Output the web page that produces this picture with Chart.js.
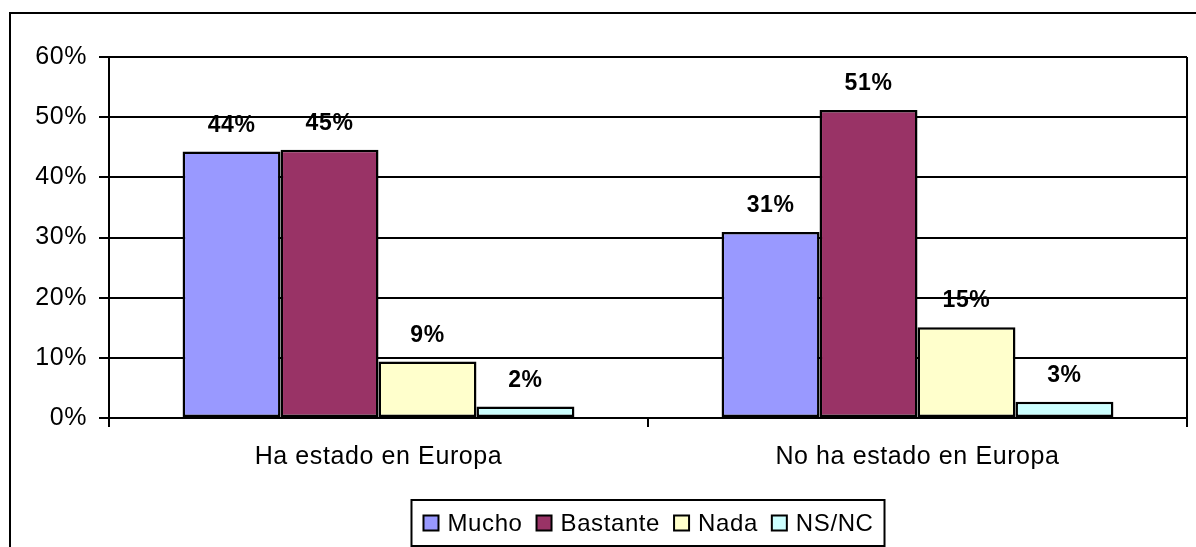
<!DOCTYPE html>
<html>
<head>
<meta charset="utf-8">
<script src="https://cdn.jsdelivr.net/npm/chart.js@4/dist/chart.umd.min.js"></script>
<style>
  html, body { margin: 0; padding: 0; background: #fff; overflow: hidden; }
  #wrap { position: relative; width: 1196px; height: 547px; }
</style>
</head>
<body>
<div id="wrap"><canvas id="barChart"></canvas></div>
<script>
const categories = ['Ha estado en Europa', 'No ha estado en Europa'];
const mucho = [44.3, 30.9];
const bastante = [44.6, 51.2];
const nada = [9.4, 15.1];
const nsnc = [1.9, 2.7];
const yTicks = [0, 10, 20, 30, 40, 50, 60];

const FONT = '"Liberation Sans", Arial, sans-serif';

// slightly wider text spacing for every label
const textSpacing = {
    id: 'textSpacing',
    beforeDraw(chart) {
        chart.ctx.letterSpacing = '0.6px';
    }
};

// frame around the whole chart (left and top edges show)
const outerFrame = {
    id: 'outerFrame',
    afterDraw(chart) {
        const ctx = chart.ctx;
        ctx.save();
        ctx.strokeStyle = '#000';
        ctx.lineWidth = 2;
        ctx.beginPath();
        ctx.moveTo(10, chart.height);
        ctx.lineTo(10, 13);
        ctx.lineTo(chart.width, 13);
        ctx.stroke();
        // right edge of the plot area
        const a = chart.chartArea;
        ctx.beginPath();
        ctx.moveTo(a.right, a.top);
        ctx.lineTo(a.right, a.bottom);
        ctx.stroke();
        ctx.restore();
    }
};

// percentage above each bar
const barLabels = {
    id: 'barLabels',
    afterDatasetsDraw(chart) {
        const ctx = chart.ctx;
        ctx.save();
        ctx.font = 'bold 23px ' + FONT;
        ctx.fillStyle = '#000';
        ctx.textAlign = 'center';
        ctx.textBaseline = 'middle';
        chart.data.datasets.forEach((ds, i) => {
            chart.getDatasetMeta(i).data.forEach((bar, j) => {
                ctx.fillText(Math.round(ds.data[j]) + '%', bar.x, bar.y - 26);
            });
        });
        ctx.restore();
    }
};

// boxed legend under the axis
const legendBox = {
    id: 'legendBox',
    afterDraw(chart) {
        const ctx = chart.ctx;
        ctx.save();
        ctx.font = '24px ' + FONT;
        const sw = 15, gap = 8, space = 13, padX = 11;
        const items = chart.data.datasets.map(ds => ({
            label: ds.label,
            color: ds.backgroundColor,
            w: ctx.measureText(ds.label).width
        }));
        const total = items.reduce((s, it) => s + sw + 2 + gap + it.w, 0) + space * (items.length - 1);
        const boxW = total + padX * 2;
        const cx = (chart.chartArea.left + chart.chartArea.right) / 2;
        const boxX = cx - boxW / 2, boxY = 500, boxH = 46;
        ctx.strokeStyle = '#000';
        ctx.lineWidth = 2;
        ctx.strokeRect(boxX, boxY, boxW, boxH);
        let x = boxX + padX;
        const midY = boxY + boxH / 2;
        ctx.textBaseline = 'middle';
        ctx.textAlign = 'left';
        items.forEach(it => {
            ctx.fillStyle = it.color;
            ctx.fillRect(x + 1, midY - 7.5, sw, sw);
            ctx.strokeRect(x + 1, midY - 7.5, sw, sw);
            x += sw + 2 + gap;
            ctx.fillStyle = '#000';
            ctx.fillText(it.label, x, midY + 1);
            x += it.w + space;
        });
        ctx.restore();
    }
};

const ctx = document.getElementById('barChart').getContext('2d');

const barStyle = { borderColor: '#000', borderWidth: 2.5, borderSkipped: false };

const chart = new Chart(ctx, {
    type: 'bar',
    data: {
        labels: categories,
        datasets: [
            { label: 'Mucho', data: mucho, backgroundColor: '#9999FF', ...barStyle },
            { label: 'Bastante', data: bastante, backgroundColor: '#993366', ...barStyle },
            { label: 'Nada', data: nada, backgroundColor: '#FFFFCC', ...barStyle },
            { label: 'NS/NC', data: nsnc, backgroundColor: '#CCFFFF', ...barStyle }
        ]
    },
    options: {
        responsive: true,
        maintainAspectRatio: false,
        animation: false,
        layout: { padding: { top: 57, right: 9, left: 0, bottom: 0 } },
        datasets: {
            bar: { categoryPercentage: 0.727, barPercentage: 1 }
        },
        plugins: {
            legend: { display: false },
            tooltip: { enabled: false }
        },
        scales: {
            x: {
                afterFit(scale) { scale.height = 129; },
                grid: {
                    display: true,
                    drawOnChartArea: false,
                    drawTicks: true,
                    tickLength: 9,
                    color: '#000',
                    lineWidth: 2
                },
                border: { display: true, color: '#000', width: 2 },
                ticks: {
                    color: '#000',
                    padding: 15,
                    font: { family: FONT, size: 25 }
                }
            },
            y: {
                min: 0,
                max: 60,
                afterFit(scale) { scale.width = 109; },
                afterBuildTicks(scale) {
                    scale.ticks = yTicks.map(v => ({ value: v }));
                },
                grid: {
                    color: '#000',
                    lineWidth: 2,
                    drawTicks: true,
                    tickLength: 10
                },
                border: { display: true, color: '#000', width: 2 },
                ticks: {
                    color: '#000',
                    padding: 12,
                    font: { family: FONT, size: 25 },
                    callback: v => v + '%'
                }
            }
        }
    },
    plugins: [textSpacing, outerFrame, barLabels, legendBox]
});
</script>
</body>
</html>
